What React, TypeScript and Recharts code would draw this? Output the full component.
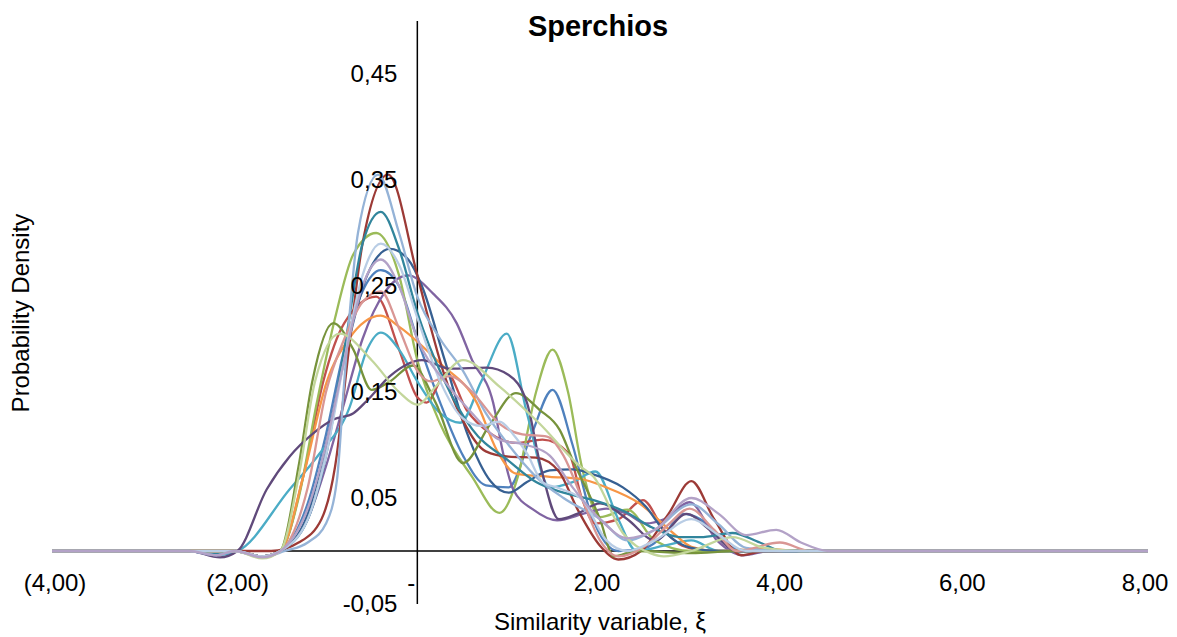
import { LineChart, Line, XAxis, YAxis, ReferenceLine, ReferenceDot } from "recharts";

type Pt = [number, number];

// x ticks / y ticks as drawn by the original
const X_TICKS = [-4, -2, 0, 2, 4, 6, 8];
const Y_TICKS = [-0.05, 0.05, 0.15, 0.25, 0.35, 0.45];

// density curves, knots as [xi, density]
const BLUE: Pt[] = [[-4, 0], [-2.5, 0], [-2, 0], [-1.7, -0.005], [-1.5, 0], [-1.2, 0.045], [-1.0, 0.11], [-0.8, 0.19], [-0.6, 0.245], [-0.4, 0.265], [-0.2, 0.25], [0, 0.2], [0.25, 0.14], [0.5, 0.09], [0.75, 0.062], [1.0, 0.06], [1.25, 0.11], [1.48, 0.152], [1.7, 0.1], [1.9, 0.035], [2.2, 0.0], [2.5, 0.003], [2.7, 0.015], [2.9, 0.035], [3.1, 0.03], [3.4, 0.005], [3.7, 0], [8, 0]];
const RED: Pt[] = [[-4, 0], [-2.5, 0], [-2, 0], [-1.7, -0.005], [-1.5, 0], [-1.25, 0.07], [-1.03, 0.16], [-0.8, 0.215], [-0.45, 0.24], [-0.2, 0.19], [0.0, 0.145], [0.1, 0.14], [0.32, 0.168], [0.54, 0.133], [0.8, 0.111], [1.08, 0.102], [1.37, 0.105], [1.66, 0.092], [1.8, 0.05], [1.95, 0.026], [2.2, 0.03], [2.47, 0.048], [2.7, 0.02], [2.9, 0.005], [3.2, 0], [8, 0]];
const GREEN: Pt[] = [[-4, 0], [-2.5, 0], [-2.2, -0.003], [-2, 0], [-1.7, -0.005], [-1.5, 0], [-1.3, 0.05], [-1.1, 0.14], [-0.9, 0.22], [-0.7, 0.28], [-0.45, 0.3], [-0.2, 0.26], [0, 0.18], [0.25, 0.12], [0.6, 0.07], [0.9, 0.036], [1.1, 0.07], [1.3, 0.15], [1.48, 0.19], [1.65, 0.15], [1.8, 0.08], [2.0, 0.032], [2.3, 0.039], [2.6, 0.01], [3.0, 0], [8, 0]];
const PURPLE: Pt[] = [[-4, 0], [-2.5, 0], [-2, 0], [-1.7, -0.005], [-1.5, 0], [-1.2, 0.03], [-1.0, 0.08], [-0.8, 0.14], [-0.6, 0.2], [-0.35, 0.245], [-0.1, 0.26], [0.17, 0.243], [0.43, 0.215], [0.6, 0.18], [0.83, 0.14], [0.94, 0.092], [1.05, 0.058], [1.27, 0.039], [1.53, 0.029], [1.85, 0.036], [2.07, 0.04], [2.3, 0.035], [2.5, 0.026], [2.7, 0.03], [2.98, 0.046], [3.28, 0.01], [3.57, -0.004], [3.85, 0], [8, 0]];
const AQUA: Pt[] = [[-4, 0], [-2.5, 0], [-2.2, -0.004], [-1.97, 0], [-1.4, 0.058], [-1.07, 0.092], [-0.74, 0.136], [-0.55, 0.19], [-0.4, 0.206], [-0.2, 0.19], [0.0, 0.16], [0.25, 0.13], [0.47, 0.121], [0.7, 0.16], [0.98, 0.205], [1.2, 0.13], [1.45, 0.06], [1.7, 0.065], [1.95, 0.075], [2.2, 0.03], [2.4, 0], [2.7, 0.005], [3.0, 0.01], [3.3, 0], [8, 0]];
const ORANGE: Pt[] = [[-4, 0], [-2.5, 0], [-2, 0], [-1.7, -0.005], [-1.5, 0], [-1.25, 0.07], [-0.99, 0.16], [-0.75, 0.2], [-0.4, 0.222], [-0.19, 0.211], [0.25, 0.177], [0.65, 0.14], [0.87, 0.095], [1.08, 0.073], [1.45, 0.07], [1.78, 0.068], [2.07, 0.06], [2.43, 0.045], [2.8, 0.017], [3.0, 0.004], [3.3, 0], [3.8, 0.002], [4.2, 0], [8, 0]];
const DARK_BLUE: Pt[] = [[-4, 0], [-2.5, 0], [-2, 0], [-1.7, -0.005], [-1.5, 0], [-1.2, 0.035], [-1.0, 0.1], [-0.8, 0.18], [-0.55, 0.26], [-0.3, 0.285], [-0.1, 0.275], [0.05, 0.25], [0.3, 0.18], [0.55, 0.11], [0.8, 0.066], [1.0, 0.055], [1.2, 0.065], [1.45, 0.076], [1.7, 0.077], [1.9, 0.073], [2.25, 0.06], [2.5, 0.042], [2.72, 0.017], [3.0, 0.003], [3.3, 0], [8, 0]];
const DARK_RED: Pt[] = [[-4, 0], [-2.5, 0], [-2, 0], [-1.6, 0], [-1.3, 0.008], [-1.05, 0.03], [-0.9, 0.08], [-0.75, 0.19], [-0.6, 0.29], [-0.32, 0.355], [0, 0.26], [0.15, 0.21], [0.3, 0.165], [0.5, 0.123], [0.75, 0.094], [1.0, 0.089], [1.3, 0.088], [1.55, 0.075], [1.75, 0.04], [2.0, 0.005], [2.2, -0.008], [2.45, 0.0], [2.75, 0.035], [3.0, 0.066], [3.25, 0.03], [3.55, -0.004], [3.8, 0], [8, 0]];
const OLIVE: Pt[] = [[-4, 0], [-2.5, 0], [-2, 0], [-1.7, -0.006], [-1.5, 0], [-1.3, 0.08], [-1.15, 0.16], [-0.92, 0.215], [-0.7, 0.19], [-0.5, 0.152], [-0.3, 0.16], [-0.05, 0.175], [0.2, 0.14], [0.5, 0.083], [0.8, 0.12], [1.08, 0.149], [1.34, 0.133], [1.56, 0.114], [1.7, 0.086], [2.0, 0.03], [2.15, -0.005], [2.4, 0.0], [3.0, -0.002], [3.5, 0], [8, 0]];
const DARK_PURPLE: Pt[] = [[-4, 0], [-2.5, 0], [-2.16, -0.006], [-1.97, 0], [-1.65, 0.058], [-1.4, 0.089], [-1.14, 0.111], [-0.92, 0.124], [-0.7, 0.13], [-0.55, 0.142], [-0.3, 0.165], [0.05, 0.18], [0.36, 0.172], [0.76, 0.173], [1.0, 0.166], [1.2, 0.14], [1.35, 0.08], [1.55, 0.03], [1.75, 0.035], [2.0, 0.045], [2.3, 0.03], [2.6, 0.01], [2.95, 0.035], [3.2, 0.02], [3.5, 0], [8, 0]];
const TEAL: Pt[] = [[-4, 0], [-2.5, 0], [-2.2, -0.003], [-2, 0], [-1.7, -0.005], [-1.5, 0], [-1.2, 0.03], [-1.0, 0.09], [-0.8, 0.19], [-0.6, 0.29], [-0.4, 0.32], [-0.2, 0.285], [0, 0.225], [0.3, 0.16], [0.6, 0.115], [1.0, 0.085], [1.3, 0.065], [1.6, 0.055], [1.93, 0.048], [2.3, 0.036], [2.55, 0.023], [2.9, 0.013], [3.1, 0.013], [3.45, 0.017], [3.75, 0.008], [4.0, 0], [8, 0]];
const LIGHT_BLUE: Pt[] = [[-4, 0], [-2.5, 0], [-2.2, -0.004], [-2, 0], [-1.7, -0.006], [-1.45, 0], [-1.2, 0.008], [-1.0, 0.026], [-0.88, 0.067], [-0.8, 0.16], [-0.65, 0.3], [-0.43, 0.355], [-0.2, 0.3], [0, 0.24], [0.25, 0.2], [0.5, 0.17], [0.75, 0.13], [1.0, 0.1], [1.3, 0.07], [1.6, 0.05], [2.0, 0.03], [2.3, 0.01], [2.6, 0.02], [3.0, 0.044], [3.3, 0.025], [3.6, 0.003], [4, 0], [8, 0]];
const PINK: Pt[] = [[-4, 0], [-2.5, 0], [-2, 0], [-1.7, -0.005], [-1.5, 0], [-1.2, 0.06], [-1.0, 0.15], [-0.8, 0.2], [-0.6, 0.235], [-0.4, 0.245], [-0.2, 0.21], [0, 0.17], [0.15, 0.16], [0.35, 0.165], [0.6, 0.15], [0.9, 0.12], [1.15, 0.11], [1.42, 0.108], [1.6, 0.09], [1.8, 0.05], [2.0, 0.01], [2.2, -0.005], [2.5, 0.005], [2.75, 0.025], [2.98, 0.04], [3.25, 0.02], [3.5, 0.0], [3.97, 0.008], [4.3, 0], [8, 0]];
const LIGHT_GREEN: Pt[] = [[-4, 0], [-2.5, 0], [-2, 0], [-1.7, -0.007], [-1.5, 0], [-1.3, 0.07], [-1.12, 0.16], [-0.85, 0.205], [-0.5, 0.18], [-0.2, 0.15], [0.0, 0.138], [0.2, 0.155], [0.5, 0.18], [0.9, 0.155], [1.34, 0.12], [1.78, 0.08], [1.93, 0.07], [2.25, 0.017], [2.55, -0.002], [2.7, -0.005], [3.0, 0.0], [3.45, 0.013], [3.8, 0.003], [4.2, 0], [8, 0]];
const PALE_BLUE: Pt[] = [[-4, 0], [-2.5, 0], [-2, 0], [-1.7, -0.005], [-1.5, 0], [-1.2, 0.03], [-1.0, 0.09], [-0.8, 0.18], [-0.6, 0.26], [-0.4, 0.29], [-0.2, 0.27], [0, 0.22], [0.25, 0.16], [0.5, 0.125], [0.7, 0.118], [0.9, 0.122], [1.05, 0.11], [1.2, 0.092], [1.37, 0.065], [1.56, 0.059], [1.81, 0.048], [2.07, 0.01], [2.3, 0.0], [2.6, 0.01], [3.0, 0.03], [3.3, 0.015], [3.6, 0], [8, 0]];
const LAVENDER: Pt[] = [[-4, 0], [-2.5, 0], [-2.2, -0.004], [-2, 0], [-1.7, -0.006], [-1.5, 0], [-1.2, 0.04], [-1.0, 0.1], [-0.8, 0.18], [-0.6, 0.25], [-0.4, 0.275], [-0.2, 0.25], [0, 0.2], [0.3, 0.16], [0.6, 0.13], [0.9, 0.105], [1.2, 0.1], [1.45, 0.09], [1.7, 0.06], [2.0, 0.03], [2.3, 0.012], [2.6, 0.02], [3.0, 0.05], [3.3, 0.035], [3.6, 0.015], [3.93, 0.02], [4.2, 0.008], [4.5, 0], [8, 0]];

const SERIES: { id: string; color: string; pts: Pt[] }[] = [
    { id: "blue", color: "#4F81BD", pts: BLUE },
    { id: "red", color: "#C0504D", pts: RED },
    { id: "green", color: "#9BBB59", pts: GREEN },
    { id: "purple", color: "#8064A2", pts: PURPLE },
    { id: "aqua", color: "#4BACC6", pts: AQUA },
    { id: "orange", color: "#F79646", pts: ORANGE },
    { id: "darkBlue", color: "#376092", pts: DARK_BLUE },
    { id: "darkRed", color: "#9C3A36", pts: DARK_RED },
    { id: "olive", color: "#77933C", pts: OLIVE },
    { id: "darkPurple", color: "#604A7B", pts: DARK_PURPLE },
    { id: "teal", color: "#31859C", pts: TEAL },
    { id: "lightBlue", color: "#95B3D7", pts: LIGHT_BLUE },
    { id: "pink", color: "#D99694", pts: PINK },
    { id: "lightGreen", color: "#C3D69B", pts: LIGHT_GREEN },
    { id: "paleBlue", color: "#B9CDE5", pts: PALE_BLUE },
    { id: "lavender", color: "#B3A2C7", pts: LAVENDER },
];

const FONT = "'Liberation Sans', Arial, sans-serif";

// x axis: accounting style 2,00 / (2,00) / -
function fmtX(v: number): string {
    if (Math.abs(v) < 1e-9) return "-";
    const s = Math.abs(v).toFixed(2).replace(".", ",");
    return v < 0 ? `(${s})` : s;
}

// y axis: plain decimal comma
function fmtY(v: number): string {
    return v.toFixed(2).replace(".", ",");
}

function YTick(props: any) {
    const vb = props.viewBox ?? {};
    return (
        <text x={vb.x - 20} y={vb.y} dy="0.35em" textAnchor="end" fontSize={24} fill="#000" fontFamily={FONT}>
            {props.text}
        </text>
    );
}

function XTick(props: any) {
    const vb = props.viewBox ?? {};
    // positive/zero labels carry a trailing pad in the accounting format
    const shift = props.value > 0 ? -3 : props.value === 0 ? -6 : 3;
    return (
        <text x={vb.x + shift} y={vb.y + 32} dy="0.35em" textAnchor="middle" fontSize={24} fill="#000" fontFamily={FONT}>
            {props.text}
        </text>
    );
}

export default function App() {
    return (
        <div style={{ position: "absolute", left: 0, top: 0, width: 1177, height: 637, background: "#fff", fontFamily: FONT }}>
            <LineChart width={1177} height={637} margin={{ top: 21, right: 29, bottom: 33, left: 52 }}>
                <XAxis type="number" dataKey="x" domain={[-4, 8]} hide allowDataOverflow />
                <YAxis type="number" domain={[-0.05, 0.5]} hide allowDataOverflow />
                <ReferenceLine x={0} stroke="#000" strokeWidth={1.5} />
                <ReferenceLine y={0} stroke="#000" strokeWidth={1.5} />
                {SERIES.map((s) => (
                    <Line
                        key={s.id}
                        data={s.pts.map(([x, y]) => ({ x, y }))}
                        dataKey="y"
                        type="monotone"
                        stroke={s.color}
                        strokeWidth={2.3}
                        dot={false}
                        activeDot={false}
                        isAnimationActive={false}
                    />
                ))}
                {Y_TICKS.map((v) => (
                    <ReferenceDot key={`y${v}`} x={0} y={v} r={0} fill="none" stroke="none" label={<YTick text={fmtY(v)} />} />
                ))}
                {X_TICKS.map((v) => (
                    <ReferenceDot key={`x${v}`} x={v} y={0} r={0} fill="none" stroke="none" label={<XTick text={fmtX(v)} value={v} />} />
                ))}
                <text x={598} y={36} textAnchor="middle" fontSize={29} fontWeight="bold" fill="#000" fontFamily={FONT}>
                    Sperchios
                </text>
                <text x={600} y={630} textAnchor="middle" fontSize={24} fill="#000" fontFamily={FONT}>
                    Similarity variable, ξ
                </text>
                <text x={29} y={313} textAnchor="middle" fontSize={24} fill="#000" fontFamily={FONT} transform="rotate(-90 29 313)">
                    Probability Density
                </text>
            </LineChart>
        </div>
    );
}
